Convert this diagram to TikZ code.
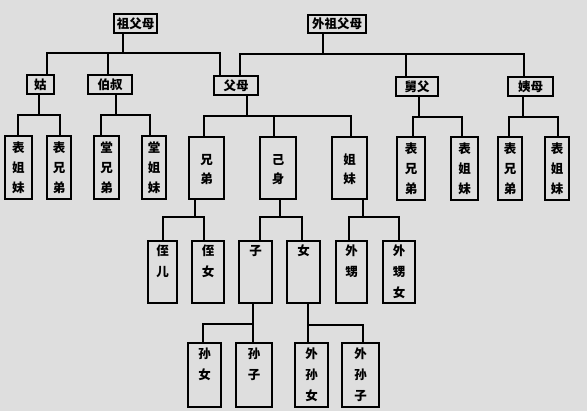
\documentclass[tikz,border=0pt]{standalone}
\usepackage{fontspec}
\newfontfamily\cjk{Noto Sans CJK SC}
\definecolor{bg}{RGB}{222,222,222}
\tikzset{
  box/.style={draw=black, line width=1.3pt, inner sep=0pt, outer sep=0pt, anchor=north west,
    font=\cjk\bfseries\fontsize{12.5}{12.5}\selectfont},
  link/.style={draw=black, line width=1.4pt},
}
% name, x1, y1, x2, y2, first-char centre offset, line step, text
\newcommand\bx[8]{\node[box] (#1) at (#2,#3) {\parbox[t][\dimexpr #5pt-#3pt\relax][t]{\dimexpr #4pt-#2pt\relax}{\centering\vspace*{\dimexpr #6pt-7.25pt\relax}\baselineskip=#7pt\relax\rule{0pt}{12pt}#8\par}};}
% parent, junction, list of x/child
\newcommand\kin[3]{%
  \draw[link] (#1.south -| #2) -- (#2);
  \foreach \cx/\cn in {#3} {\draw[link] (#2) -| (\cn.north -| \cx,0);}}
\begin{document}
\begin{tikzpicture}[x=1pt,y=-1pt]
\fill[bg] (0,0) rectangle (587,411);
\useasboundingbox (0,0) rectangle (587,411);
% generation 1
\bx{zfm}{114}{14}{157}{33}{9.5}{20}{祖父母}
\bx{wzfm}{308}{15}{366}{33}{9}{20}{外祖父母}
% generation 2
\bx{gu}{27}{75}{54}{94}{9.5}{20}{姑}
\bx{bs}{88}{75}{132}{94}{9.5}{20}{伯叔}
\bx{fm}{214}{76}{258}{95}{9.5}{20}{父母}
\bx{jf}{396}{77}{438}{96}{9.5}{20}{舅父}
\bx{ym}{508}{77}{553}{96}{9.5}{20}{姨母}
% generation 3
\bx{c1}{5}{136}{32}{199}{12}{20}{表\\姐\\妹}
\bx{c2}{47}{136}{71}{199}{12}{20}{表\\兄\\弟}
\bx{c3}{94}{136}{119}{199}{12}{20}{堂\\兄\\弟}
\bx{c4}{142}{136}{166}{199}{12}{20}{堂\\姐\\妹}
\bx{xd}{189}{137}{224}{199}{23}{19}{兄\\弟}
\bx{js}{260}{137}{296}{199}{23}{19}{己\\身}
\bx{jm}{332}{137}{367}{199}{23}{19}{姐\\妹}
\bx{c5}{397}{137}{425}{200}{12}{20}{表\\兄\\弟}
\bx{c6}{451}{137}{478}{200}{12}{20}{表\\姐\\妹}
\bx{c7}{498}{137}{522}{200}{12}{20}{表\\兄\\弟}
\bx{c8}{545}{137}{569}{200}{12}{20}{表\\姐\\妹}
% generation 4
\bx{zr}{148}{241}{177}{303}{10}{21}{侄\\儿}
\bx{zn}{192}{241}{224}{303}{10}{21}{侄\\女}
\bx{zi}{239}{241}{272}{303}{10}{21}{子}
\bx{nv}{287}{241}{320}{303}{10}{21}{女}
\bx{ws}{336}{241}{367}{303}{10}{21}{外\\甥}
\bx{wsn}{383}{241}{415}{303}{10}{21}{外\\甥\\女}
% generation 5
\bx{sn}{188}{343}{221}{407}{11}{21}{孙\\女}
\bx{sz}{236}{343}{272}{407}{11}{21}{孙\\子}
\bx{wsnv}{295}{343}{328}{407}{11}{21}{外\\孙\\女}
\bx{wsz}{342}{343}{379}{407}{11}{21}{外\\孙\\子}
% junctions
\coordinate (j1) at (123,53);
\coordinate (j2) at (323,54);
\coordinate (j3) at (39,115);
\coordinate (j4) at (116,115);
\coordinate (j5) at (247,116);
\coordinate (j6) at (419,117);
\coordinate (j7) at (523,117);
\coordinate (j8) at (195,217);
\coordinate (j9) at (280,217);
\coordinate (j10) at (363,217);
\coordinate (j11) at (253,324);
\coordinate (j12) at (308,325);
% connectors
\kin{zfm}{j1}{47/gu,108/bs,220/fm}
\kin{wzfm}{j2}{240/fm,406/jf,524/ym}
\kin{gu}{j3}{18/c1,60/c2}
\kin{bs}{j4}{101/c3,150/c4}
\kin{fm}{j5}{204/xd,274/js,351/jm}
\kin{jf}{j6}{413/c5,462/c6}
\kin{ym}{j7}{509/c7,558/c8}
\kin{xd}{j8}{163/zr,204/zn}
\kin{js}{j9}{260/zi,302/nv}
\kin{jm}{j10}{349/ws,399/wsn}
\kin{zi}{j11}{203/sn,253/sz}
\kin{nv}{j12}{308/wsnv,363/wsz}
\end{tikzpicture}
\end{document}
